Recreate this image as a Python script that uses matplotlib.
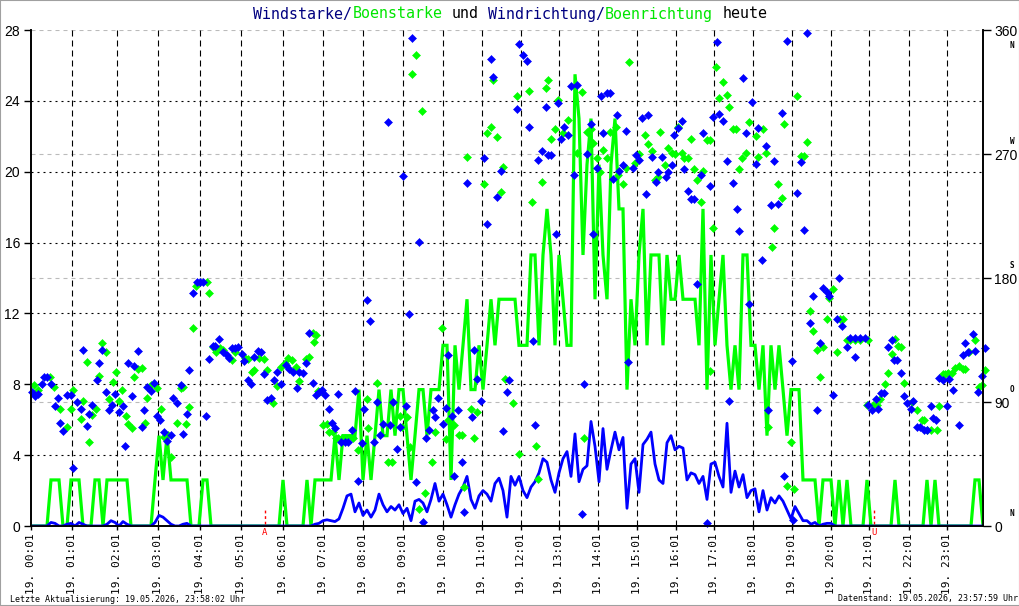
import numpy as np
import matplotlib.pyplot as plt
from matplotlib.patches import Rectangle
from matplotlib.transforms import blended_transform_factory

# ---------------------------------------------------------------
# Daten (x-Achse in Zeitschlitzen, eine Linienprobe alle 4 Schlitze)
# ---------------------------------------------------------------
SAMPLE_STEP = 4
X_END = 952

wind_speed = [
    0, 0, 0, 0, 0, 0.2, 0.15, 0, 0, 0.1, 0.15, 0, 0.2, 0.1, 0, 0, 0, 0, 0, 0.1,
    0.3, 0.2, 0, 0.25, 0.1, 0, 0, 0, 0, 0, 0, 0.2, 0.6, 0.5, 0.3, 0.1, 0, 0, 0.1, 0.15,
    0, 0, 0, 0, 0, 0, 0, 0, 0, 0, 0, 0, 0, 0, 0, 0, 0, 0, 0, 0,
    0, 0, 0, 0, 0, 0, 0, 0, 0, 0, 0, 0.1, 0.15, 0.3, 0.35, 0.3, 0.25, 0.4, 1.0, 1.7,
    1.8, 0.8, 1.3, 0.6, 0.9, 0.5, 0.9, 1.8, 1.2, 0.8, 1.1, 0.9, 1.2, 0.7, 1.0, 0.3, 1.4, 1.5, 1.3, 0.8,
    1.5, 2.4, 1.4, 1.8, 1.2, 0.5, 1.2, 1.8, 2.2, 2.8, 1.5, 1.0, 1.7, 2.0, 1.8, 1.4, 2.4, 2.7, 2.0, 0.5,
    2.8, 2.3, 2.8, 2.0, 1.6, 2.2, 2.5, 3.0, 3.8, 3.6, 2.6, 1.9, 3.0, 3.8, 4.2, 2.8, 5.2, 2.5, 3.2, 3.4,
    5.9, 4.5, 2.5, 5.5, 3.2, 4.3, 5.3, 4.3, 5.0, 1.0, 3.5, 3.8, 1.9, 4.6, 4.9, 5.3, 3.5, 2.6, 2.4, 4.7,
    5.1, 4.3, 4.5, 4.4, 2.6, 3.0, 2.9, 2.4, 2.8, 1.5, 3.5, 3.6, 2.8, 2.2, 5.8, 1.9, 3.1, 2.2, 2.9, 1.6,
    2.0, 2.1, 0.8, 2.0, 0.9, 1.6, 1.3, 1.7, 1.4, 0.9, 0.4, 1.1, 0.7, 0.3, 0.3, 0.1, 0.2, 0, 0.1, 0.15,
    0.15, 0, 0, 0, 0, 0, 0, 0, 0, 0, 0, 0, 0, 0, 0, 0, 0, 0, 0, 0,
    0, 0, 0, 0, 0, 0, 0, 0, 0, 0, 0, 0, 0, 0, 0, 0, 0, 0, 0,
]

gust_speed = [
    0, 0, 0, 0, 0, 2.6, 2.6, 2.6, 0, 0, 2.6, 2.6, 2.6, 0, 0, 0, 2.6, 2.6, 0, 2.6,
    2.6, 2.6, 2.6, 2.6, 2.6, 0, 0, 0, 0, 0, 0, 2.6, 5.1, 2.6, 5.1, 2.6, 2.6, 2.6, 2.6, 2.6,
    0, 0, 0, 2.6, 2.6, 0, 0, 0, 0, 0, 0, 0, 0, 0, 0, 0, 0, 0, 0, 0,
    0, 0, 0, 2.6, 0, 0, 0, 0, 0, 2.6, 0, 2.6, 2.6, 2.6, 2.6, 2.6, 5.1, 2.6, 5.1, 5.1,
    5.1, 5.1, 7.7, 2.6, 5.1, 2.6, 5.1, 7.7, 5.1, 5.1, 7.7, 5.1, 7.7, 7.7, 5.1, 2.6, 5.1, 7.7, 7.7, 5.1,
    7.7, 7.7, 7.7, 10.2, 10.2, 2.6, 10.2, 7.7, 10.2, 12.8, 7.7, 7.7, 10.2, 7.7, 10.2, 12.8, 10.2, 12.8, 12.8, 12.8,
    12.8, 12.8, 10.2, 10.2, 10.2, 15.3, 15.3, 10.2, 15.3, 17.9, 15.3, 10.2, 15.3, 12.8, 10.2, 10.2, 25.5, 23.0, 15.3, 20.4,
    23.0, 12.8, 20.4, 15.3, 12.8, 20.4, 23.0, 17.9, 17.9, 7.7, 12.8, 10.2, 15.3, 17.9, 10.2, 15.3, 15.3, 15.3, 10.2, 15.3,
    12.8, 12.8, 15.3, 12.8, 12.8, 12.8, 12.8, 10.2, 17.9, 7.7, 15.3, 10.2, 12.8, 15.3, 10.2, 7.7, 10.2, 7.7, 15.3, 15.3,
    10.2, 10.2, 7.7, 10.2, 5.1, 10.2, 7.7, 10.2, 7.7, 5.1, 7.7, 7.7, 7.7, 2.6, 2.6, 2.6, 2.6, 0, 2.6, 2.6,
    2.6, 0, 2.6, 0, 2.6, 0, 0, 0, 0, 2.6, 0, 0, 0, 0, 0, 0, 2.6, 0, 0, 0,
    0, 0, 0, 0, 2.6, 0, 2.6, 0, 0, 0, 0, 0, 0, 0, 0, 0, 2.6, 2.6, 0,
]

# Windrichtung (Zeitschlitz, Grad)
wind_dir_pts = [
    (0.7, 97.5), (4, 94), (7, 95.8), (10.7, 102.8), (13, 108), (15.7, 108), (19.7, 103), (24, 87),
    (26.7, 92.7), (29, 74.5), (32.3, 69), (36.3, 95), (39.7, 95), (42.3, 41.9), (45.7, 89.8), (49.7, 85),
    (52.3, 127.7), (55.7, 72.8), (58.3, 81), (61.3, 87.8), (65.7, 106), (68.3, 118.5), (71, 127.7), (75, 97.5),
    (78.3, 84.2), (81, 87.8), (84.3, 95.8), (87.7, 82.5), (91.7, 87), (94, 58), (97.3, 118.5), (100.7, 94.4),
    (103.3, 116), (107.3, 127), (110.7, 72), (113.3, 84.2), (116.3, 101), (120, 98), (123.3, 104), (126.3, 79.8),
    (129, 77), (133.3, 68.5), (136.3, 61.7), (139.7, 66), (142.3, 92.7), (146.3, 89.5), (149.7, 102), (152.3, 66.8),
    (155.7, 81), (158.3, 113), (162.3, 169), (165.7, 177), (169, 177), (171.7, 177), (175, 79.8), (178.3, 121),
    (181.7, 130.6), (184.3, 131), (188.3, 135.5), (192.3, 126.5), (195.7, 124), (198.3, 121.8), (200.7, 129),
    (204, 129), (207.3, 129.6), (210.7, 124.8), (213.3, 120), (217.3, 106), (220, 102.8), (223, 122.4),
    (226.7, 127), (230, 126.5), (233.3, 110), (236.3, 91.4), (239.7, 92.7), (243, 106), (246.3, 112),
    (249.7, 102.8), (255, 116.8), (258.3, 113.7), (262.3, 112), (265.7, 100), (268.3, 112), (271.7, 111),
    (275, 118), (278.3, 139.9), (281.7, 103.6), (284.7, 95), (288, 97.5), (291.3, 98.7), (294, 95),
    (297.7, 84.7), (301, 74.5), (303.7, 71.4), (307.3, 95.6), (310.3, 61.2), (313.7, 61.2), (317.3, 61),
    (320.7, 69.7), (324, 98), (327.3, 32.7), (330.7, 60), (333.3, 85), (335.7, 164), (339, 148.8),
    (343.3, 60.7), (346.3, 89.8), (349, 66), (352.3, 74), (356.7, 293), (359, 73.3), (362.3, 89.8),
    (365.7, 55.7), (369, 72), (372.3, 254), (375, 87), (378.3, 153.6), (381.3, 354), (385, 31.7), (388, 206),
    (391.7, 2.7), (395, 63.6), (398.3, 69.7), (401.7, 84.2), (404, 79.3), (407.3, 92.7), (411.7, 74),
    (414.7, 85.9), (417.3, 124), (420.7, 79.8), (423.3, 36.3), (427.3, 84.2), (430.7, 46.7), (433.3, 10.4),
    (436.3, 248.7), (440.7, 79.3), (443.3, 127.7), (446.3, 106.5), (449.7, 90.7), (453.3, 266.9), (456.3, 219),
    (459.7, 338.7), (462.3, 325.6), (465.7, 238.6), (469.7, 257.7), (472.3, 69), (475.7, 97.5), (478.3, 106),
    (485.7, 302.4), (488.3, 349.6), (491.7, 341.8), (495.7, 337.7), (498.3, 289.8), (501.7, 134.3),
    (504.3, 73.3), (507.3, 265.6), (511.3, 272.2), (514.7, 303.9), (517.3, 269.5), (520, 269.5), (524.7, 212),
    (527.3, 306.8), (530, 280.6), (533.3, 289.8), (537.3, 283.8), (540, 319.4), (543.3, 254.8), (546.3, 320),
    (550.7, 8.5), (553.3, 102.8), (556.3, 269.8), (559.7, 291.5), (562.3, 212), (566.3, 259.6), (569.7, 312),
    (572.3, 285), (575.7, 314.6), (579, 314.6), (582.3, 251.6), (585.7, 298.3), (588.3, 257.7), (592.3, 262),
    (595, 286.7), (597.3, 119.3), (601.7, 259.6), (604.7, 269.3), (608.3, 265.6), (611.3, 295.9), (614.7, 241),
    (617.3, 298.3), (621.3, 268), (624.7, 249.5), (627.3, 256.7), (630.7, 267.6), (634.7, 253), (637.3, 256.7),
    (640.7, 262), (643.3, 283.8), (646.7, 288.6), (650.7, 294), (653.3, 258.9), (656.7, 243.1), (659.7, 237.1),
    (663.3, 237.1), (666.3, 175.4), (669.7, 254.8), (672.3, 285), (676.3, 2.4), (679, 246.8), (682.3, 296.6),
    (685.7, 351), (688.3, 298.8), (692.3, 294), (695.7, 265), (698.3, 90.7), (701.7, 248.7), (705.7, 229.9),
    (708.3, 214.1), (711.7, 325), (714.7, 285), (718.3, 160.9), (721.3, 308), (724.7, 262.5), (727.3, 288.6),
    (731.3, 193.1), (734.7, 275.8), (737.3, 84.2), (740, 233), (743.3, 265), (747.3, 233.5), (750.7, 299.5),
    (753, 36.3), (756.3, 352), (760.7, 119.8), (762.3, 4.4), (766.3, 241.5), (769.7, 264), (773.3, 214.8),
    (776.3, 357.6), (779, 147), (782.3, 167), (785.7, 84.2), (789, 133), (792.3, 172.5), (795.7, 170),
    (798.3, 167), (802.3, 95), (805.7, 150), (808.3, 180.2), (811.3, 145), (815.7, 129.7), (819, 136.5),
    (824, 136.5), (824.3, 122.4), (829, 136.5), (834, 136.5), (837.3, 87.8), (840.7, 84.2), (844.7, 92.2),
    (847.3, 84.7), (850, 96.3), (853, 96.3), (857.3, 130), (860.7, 135), (863, 120.5), (866.3, 120.5),
    (869.7, 110.8), (873.3, 94.4), (876.3, 89), (879.7, 84.7), (882.3, 90.7), (886, 72), (889.3, 72),
    (892.7, 70), (896, 70), (900, 87), (902.3, 78.4), (905, 77), (908.3, 107.6), (911.7, 106), (915.7, 87.3),
    (918.3, 106.7), (921.7, 98.7), (928.3, 73.3), (931.7, 124), (934, 132.6), (937.3, 126.5), (941.7, 139.4),
    (944, 127), (947.3, 97.5), (950.7, 108.9), (954, 129),
]

# Boenrichtung (Zeitschlitz, Grad)
gust_dir_pts = [
    (3, 102.3), (7.3, 98.7), (19, 108.4), (23, 100.7), (29, 84.7), (35.7, 72), (39.7, 84.7), (42.3, 98.7),
    (49.7, 77.4), (52.3, 90.7), (55.7, 118.8), (58.3, 60.7), (61.3, 80.6), (65, 84.7), (68.3, 108.9),
    (71.3, 132.6), (75, 126), (78.3, 92.2), (81.7, 104.7), (84.7, 112), (88, 90.7), (91.3, 98.7), (94.7, 79.8),
    (97.3, 74), (100.7, 70.9), (103.3, 108.4), (107.3, 113.7), (110.7, 114.4), (114, 74.5), (116.3, 92.7),
    (119.7, 102.3), (125.7, 100), (129.7, 84.7), (133.3, 64.8), (137.3, 66), (139.7, 50.3), (146.3, 74.5),
    (149.7, 100), (152.3, 100.7), (155, 74), (158.3, 86.6), (162.3, 143.5), (165, 174), (175.7, 177),
    (178.3, 169.3), (181.7, 130), (185, 126.5), (189, 129), (192.3, 127.7), (200.7, 120.5), (204, 126.5),
    (214, 121.7), (217.3, 121), (220.7, 112), (223, 113.2), (228.3, 121.7), (233, 121), (236.3, 113.2),
    (242.3, 89.5), (245.7, 101.6), (249.7, 115.2), (254, 118.5), (257.3, 121.7), (260.7, 120.5), (265, 115.6),
    (268.3, 105.2), (275, 121), (278.3, 122.4), (281.7, 139.9), (283, 133.8), (285, 138.6), (287.3, 98),
    (290, 98), (292.3, 73.3), (295.7, 73.8), (298.3, 68.5), (301.7, 68.5), (305, 64), (307.3, 64), (310.7, 63.7),
    (314, 63.7), (320.7, 64.8), (322.3, 64), (327.3, 55.2), (335.7, 92.2), (336.7, 70.9), (346.3, 103.6),
    (357, 46.7), (361, 46.7), (369, 79.8), (370.7, 71.6), (375.7, 79.3), (379, 57.6), (381.3, 328),
    (385, 341.8), (388.3, 12.1), (391.3, 301.2), (394, 23.7), (401.3, 46.7), (404, 68.5), (411.3, 143.5),
    (414.7, 62.9), (417.3, 77), (420.7, 73.3), (423.3, 73.3), (428, 66), (431, 66), (433.3, 28.1),
    (436.3, 267.6), (440, 84.7), (443, 63.6), (446.3, 82.5), (453.3, 248), (456.3, 285), (459.7, 289.8),
    (462.3, 323.7), (465.7, 282), (469.7, 242.6), (472.3, 260.8), (474, 106.7), (482.3, 89.5), (485.7, 312),
    (488, 52.3), (498.3, 315.7), (501.3, 235), (504.7, 58), (507.3, 33.9), (511.3, 249.5), (514.7, 317.7),
    (517.3, 323.7), (520, 281), (524, 288), (527.3, 309.2), (531.7, 285.5), (537.3, 294.7), (546.3, 270.5),
    (550.7, 314.8), (553, 63.6), (556.3, 286.2), (559.7, 288), (562.3, 278.2), (565.7, 266.9), (569, 257.2),
    (572.3, 272.9), (575.7, 267.3), (579, 286.2), (585, 289.8), (587.3, 254.8), (592.3, 248), (595, 259.6),
    (598.3, 336.6), (604, 263.7), (608.3, 269.8), (614, 283.8), (617.3, 277), (621.3, 272.2), (624, 251),
    (627.3, 253.5), (629, 286.2), (634, 262), (637.3, 274), (640.7, 270.5), (644, 269.8), (646.7, 289.8),
    (650.7, 271), (653, 266.9), (657, 266.9), (659.7, 280.6), (663.3, 259.1), (666.3, 251), (669.7, 235.4),
    (672.3, 257.7), (676, 280), (679, 280), (679, 112.7), (682.3, 216), (685, 332.9), (688.3, 310.4),
    (692.3, 322.5), (695.7, 312.8), (698.3, 303.9), (701.7, 288), (705, 288), (708.3, 259.1), (711.3, 266.9),
    (714.7, 270.5), (718, 293), (724.7, 283.3), (727.3, 267.6), (731.7, 288), (734.7, 270.5), (737.3, 72),
    (740.7, 202.7), (743.3, 216), (747.3, 248), (750.7, 237.8), (753.3, 291.5), (755.7, 29), (759.7, 60.7),
    (763, 26.6), (766.3, 312), (769.7, 268.5), (773, 268.5), (776.3, 278.5), (779, 156), (782.3, 141.8),
    (785.7, 127.7), (789, 108), (792.3, 130), (795.7, 150), (798.3, 165.3), (801.7, 171.8), (805.7, 126.5),
    (809, 150), (811.7, 150), (816, 135), (819.3, 135), (824, 135), (829, 135), (837, 135), (836, 87.8),
    (842.3, 87.8), (845.7, 87.8), (849, 92), (854, 103), (857.3, 110.8), (860.7, 124.8), (864, 135.5),
    (867.3, 130.6), (870, 130), (873.3, 103.6), (880.7, 90.2), (886.3, 84.2), (890.7, 77), (893, 77),
    (895.7, 69.7), (899.7, 69.7), (905.7, 69.7), (908.3, 87), (911.7, 110.5), (914, 110.5), (917.3, 111),
    (920.7, 111), (924, 114.4), (928.3, 116), (931.7, 113.7), (934, 113.7), (938.3, 126.5), (944, 135),
    (948.3, 101), (950.7, 102.3), (954, 113),
]

tick_pos = [0, 40.7, 85.7, 127, 169, 209.7, 252, 292, 332, 372, 412, 451, 490, 528,
            567, 606, 645, 683, 722, 761, 800, 838, 878, 916]
tick_labels = ["19. 00:01", "19. 01:01", "19. 02:01", "19. 03:01", "19. 04:01", "19. 05:01",
               "19. 06:01", "19. 07:01", "19. 08:01", "19. 09:01", "19. 10:00", "19. 11:01",
               "19. 12:01", "19. 13:01", "19. 14:01", "19. 15:01", "19. 16:01", "19. 17:01",
               "19. 18:01", "19. 19:01", "19. 20:01", "19. 21:01", "19. 22:01", "19. 23:01"]
speed_ticks = [0, 4, 8, 12, 16, 20, 24, 28]
dir_ticks = [0, 90, 180, 270, 360]
compass = [("N", 360), ("W", 270), ("S", 180), ("O", 90), ("N", 0)]
sun_marks = [("A", 234), ("U", 843)]

# Farben
BLUE = '#0000ff'
GREEN = '#00ff00'
NAVY = '#000080'
MONO = 'DejaVu Sans Mono'

# ---------------------------------------------------------------
fig = plt.figure(figsize=(10.2, 6.06), dpi=100)
ax = fig.add_axes([31 / 1020, 80 / 606, 952 / 1020, 496 / 606])
ax2 = ax.twinx()

ax.set_xlim(0, X_END)
ax.set_ylim(0, 28)
ax2.set_ylim(0, 360)

# Gitter
for y in speed_ticks[1:-1]:
    ax.axhline(y, color='black', lw=0.8, ls=(0, (1.8, 3.6)), zorder=1)
for y in [7, 14, 21, 28]:
    ax.axhline(y, color='#bbbbbb', lw=0.8, ls=(0, (3.6, 3.6)), zorder=1)
for x in tick_pos[1:]:
    ax.axvline(x, color='black', lw=0.8, ls=(0, (5.4, 3.6)), zorder=1)

# Geschwindigkeiten
x_line = np.arange(len(gust_speed)) * SAMPLE_STEP
ax.plot(x_line, gust_speed, color=GREEN, lw=2.3, zorder=3, solid_joinstyle='miter')
x_line = np.arange(len(wind_speed)) * SAMPLE_STEP
ax.plot(x_line, wind_speed, color=BLUE, lw=2.0, zorder=4)

# Sonnenauf-/untergang
for letter, xs in sun_marks:
    ax.vlines(xs, 0.1, 0.9, colors='red', lw=1, linestyles=(0, (2, 2)), zorder=5)
    ax.annotate(letter, xy=(xs, 0), xytext=(0, -1.5), textcoords='offset points',
                ha='center', va='top', color='red', fontsize=6.5, family=MONO,
                annotation_clip=False)

# Richtungen
gd = np.array(gust_dir_pts).T
wd = np.array(wind_dir_pts).T
ax2.plot(gd[0], gd[1], 'D', color=GREEN, ms=4.0, mew=0.4, ls='none', clip_on=False)
ax2.plot(wd[0], wd[1], 'D', color=BLUE, ms=4.0, mew=0.4, ls='none', clip_on=False)

# Achsen
for a in (ax, ax2):
    a.spines['top'].set_visible(False)
    for s in ('left', 'right', 'bottom'):
        a.spines[s].set_linewidth(1.2)

ax.set_xticks(tick_pos)
ax.set_xticklabels(tick_labels, rotation=90, family=MONO, fontsize=8)
ax.tick_params(axis='x', length=3, width=1, pad=2)
ax.set_yticks(speed_ticks)
ax.set_yticklabels([str(v) for v in speed_ticks], family='Liberation Sans', fontsize=10)
ax.tick_params(axis='y', length=5, width=1, pad=3)
ax2.set_yticks(dir_ticks)
ax2.set_yticklabels([str(v) for v in dir_ticks], family='Liberation Sans', fontsize=10)
ax2.tick_params(axis='y', length=6, width=1, pad=2)

trans = blended_transform_factory(ax2.transAxes, ax2.transData)
for letter, deg in compass:
    dy = -11 if deg == 360 else 9
    ax2.annotate(letter, xy=(1.0305, deg), xycoords=trans, xytext=(0, dy),
                 textcoords='offset points', ha='center', va='center',
                 fontsize=5.5, family=MONO, fontweight='bold', annotation_clip=False)

# Titel in Farbsegmenten (Monospace: feste Zeichenbreite)
TITLE_SIZE = 10.8
char_w = 0.6021 * TITLE_SIZE / 72 / 10.2
title_parts = [("Windstarke/", NAVY), ("Boenstarke", '#00e600'), (" und ", 'black'),
               ("Windrichtung/", NAVY), ("Boenrichtung", '#00e600'), (" heute", 'black')]
pos = 0
for part, col in title_parts:
    lead = len(part) - len(part.lstrip())
    fig.text(253 / 1020 + (pos + lead) * char_w, 1 - 14 / 606, part.strip(), color=col,
             fontsize=TITLE_SIZE, family=MONO, ha='left', va='center')
    pos += len(part)

fig.text(10 / 1020, 1 - 599 / 606, "Letzte Aktualisierung: 19.05.2026, 23:58:02 Uhr",
         fontsize=6, family=MONO, ha='left', va='center')
fig.text(1018 / 1020, 1 - 599 / 606, "Datenstand: 19.05.2026, 23:57:59 Uhr",
         fontsize=6, family=MONO, ha='right', va='center')

fig.patches.append(Rectangle((0, 0), 1, 1, transform=fig.transFigure, fill=False,
                             edgecolor='#a0a0a0', lw=1.5))

fig.savefig('out.png', dpi=100)
